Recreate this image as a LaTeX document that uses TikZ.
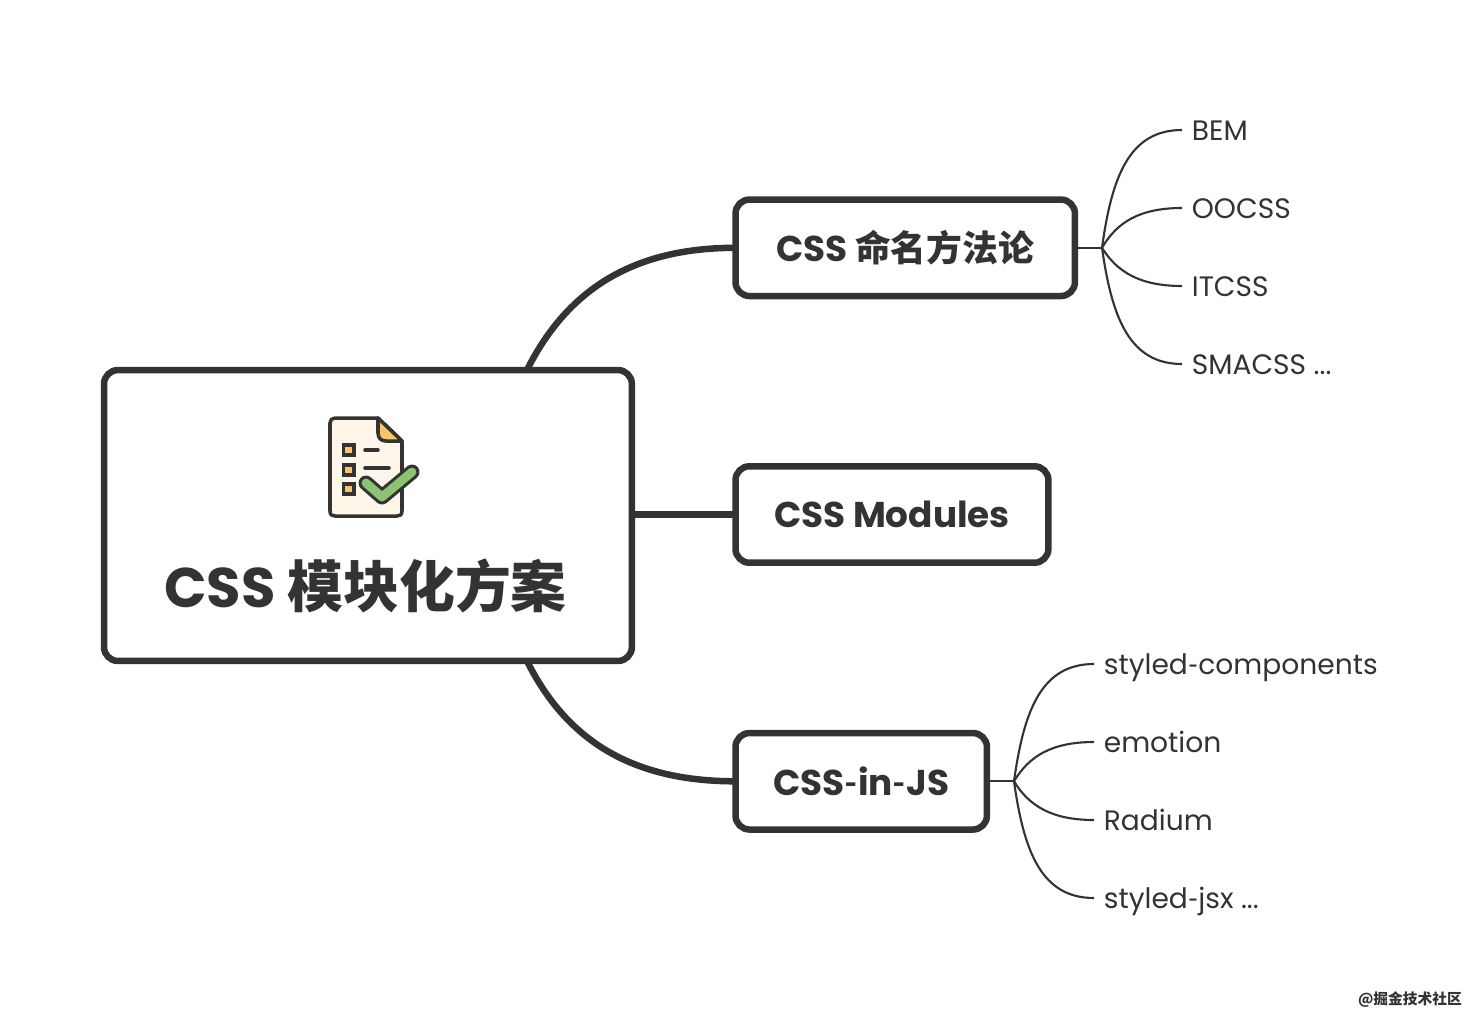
\documentclass[tikz,border=0pt]{standalone}
\usepackage{fontspec}
\setmainfont{Poppins}
\newfontfamily\cjk{Noto Sans CJK SC}
\newfontfamily\hyfont{Lato}
\usetikzlibrary{positioning}
\definecolor{ink}{HTML}{333333}
\definecolor{paper}{HTML}{FDF6E9}
\definecolor{fold}{HTML}{F9C567}
\definecolor{tick}{HTML}{8CC474}
\newcommand{\hy}{{\hyfont -}}
\tikzset{
    topicbox/.style={draw=ink, line width=3.7pt, rounded corners=.28cm, text=ink, anchor=west, outer sep=0pt,
        minimum height=1.93cm, font=\fontsize{20.4}{24}\selectfont\bfseries},
    leaf/.style={anchor=west, inner xsep=.19cm, inner ysep=0pt, text=ink, text height=.5cm, text depth=.1cm,
        font=\fontsize{16}{20}\selectfont},
    bigline/.style={draw=ink, line width=3.7pt},
    thinline/.style={draw=ink, line width=1.2pt},
    iconline/.style={draw=ink, line width=2pt, line join=round, line cap=round}
}
\begin{document}
\begin{tikzpicture}[x=.02cm, y=-.02cm]
    \useasboundingbox (0,0) rectangle (1484,1028);
    \node[topicbox, minimum width=10.56cm, minimum height=5.82cm] (root) at (104,515.5) {};
    \node[text=ink, font=\fontsize{31.8}{36}\selectfont\bfseries] (title) at (365.5,586) {CSS {\cjk 模块化方案}};
    \node[topicbox, minimum width=6.79cm] (naming) at (735.5,247.8) {CSS {\cjk 命名方法论}};
    \node[topicbox, minimum width=6.26cm] (modules) at (735.5,514.5) {CSS Modules};
    \node[topicbox, minimum width=5.03cm] (injs) at (735.5,781.3) {CSS\hy in\hy JS};
    \coordinate (rootup) at (527,370);
    \coordinate (rootdown) at (527,661);
    \draw[bigline] (rootup) .. controls (568,288) and (635,247.8) .. (naming.west);
    \draw[bigline] (root.east |- modules.west) -- (modules.west);
    \draw[bigline] (rootdown) .. controls (568,743) and (635,781.3) .. (injs.west);
    \node[leaf] (bem) at (1182,130) {BEM};
    \node[leaf] (oocss) at (1182,208) {OOCSS};
    \node[leaf] (itcss) at (1182,286) {ITCSS};
    \node[leaf] (smacss) at (1182,364) {SMACSS ...};
    \coordinate (hubA) at (1102,247.8);
    \draw[thinline] (naming.east) -- (hubA);
    \draw[thinline] (hubA) .. controls (1112,175) and (1130,130) .. (bem.west);
    \draw[thinline] (hubA) .. controls (1117,222) and (1140,208) .. (oocss.west);
    \draw[thinline] (hubA) .. controls (1117,272) and (1140,286) .. (itcss.west);
    \draw[thinline] (hubA) .. controls (1112,319) and (1130,364) .. (smacss.west);
    \node[leaf] (styled) at (1094,664) {styled\hy components};
    \node[leaf] (emotion) at (1094,742) {emotion};
    \node[leaf] (radium) at (1094,820) {Radium};
    \node[leaf] (jsx) at (1094,898) {styled\hy jsx ...};
    \coordinate (hubB) at (1014,781.3);
    \draw[thinline] (injs.east) -- (hubB);
    \draw[thinline] (hubB) .. controls (1024,709) and (1042,664) .. (styled.west);
    \draw[thinline] (hubB) .. controls (1029,756) and (1052,742) .. (emotion.west);
    \draw[thinline] (hubB) .. controls (1029,806) and (1052,820) .. (radium.west);
    \draw[thinline] (hubB) .. controls (1024,853) and (1042,898) .. (jsx.west);
    \draw[iconline, fill=paper] (335,418) -- (378,418) -- (402,441) -- (402,511) .. controls (402,515) and (400,516) .. (397,516)
        -- (335,516) .. controls (332,516) and (330,515) .. (330,511) -- (330,423) .. controls (330,420) and (332,418) .. (335,418) -- cycle;
    \draw[iconline, fill=fold] (378,418) -- (402,441) -- (386,441) .. controls (381,441) and (378,438) .. (378,433) -- cycle;
    \foreach \y in {450,470,489}
        \draw[iconline, fill=fold, line cap=butt, line join=miter] (343.5,\y-5) rectangle (354,\y+5);
    \draw[iconline] (365,450) -- (378,450);
    \draw[iconline] (365,468) -- (389,468);
    \draw[draw=ink, line width=8.5pt, line cap=round, line join=round] (366,483) -- (382,497) -- (412,472);
    \draw[draw=tick, line width=5pt, line cap=round, line join=round] (366,483) -- (382,497) -- (412,472);
    \node[text=ink, font=\fontsize{8.4}{10}\selectfont\bfseries\cjk] (mark) at (1410,999.5) {@掘金技术社区};
\end{tikzpicture}
\end{document}
